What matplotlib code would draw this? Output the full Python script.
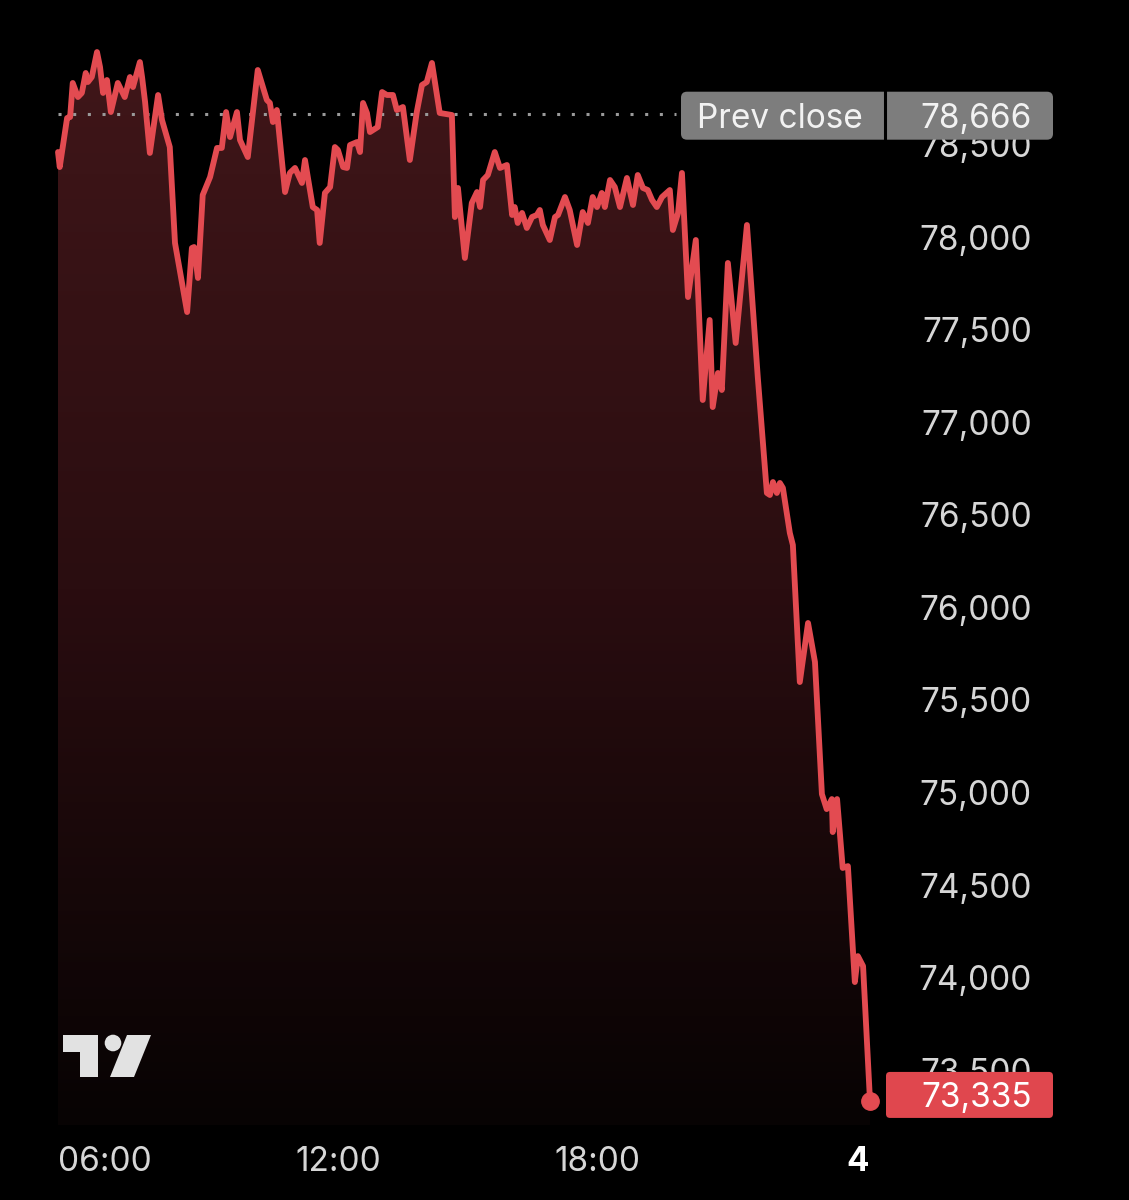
import numpy as np
import matplotlib
matplotlib.use("Agg")
import matplotlib.pyplot as plt
from matplotlib.patches import Polygon, FancyBboxPatch, Circle
from matplotlib.colors import LinearSegmentedColormap
from matplotlib.transforms import blended_transform_factory

plt.rcParams['font.family'] = ['Inter', 'DejaVu Sans']

# hours since midnight of the previous day (24 = the "4" day mark)
hours = [5.54, 5.58, 5.75, 5.82, 5.88, 6.00, 6.09, 6.18, 6.23, 6.32, 6.44, 6.51,
         6.58, 6.67, 6.76, 6.92, 7.08, 7.20, 7.27, 7.43, 7.48, 7.55, 7.66, 7.85,
         7.94, 8.12, 8.24, 8.52, 8.63, 8.68, 8.77, 8.88, 9.05, 9.21, 9.32, 9.42,
         9.51, 9.67, 9.74, 9.92, 10.15, 10.36, 10.43, 10.50, 10.59, 10.78, 10.89,
         11.01, 11.17, 11.24, 11.42, 11.52, 11.58, 11.70, 11.82, 11.93, 12.00,
         12.12, 12.21, 12.28, 12.44, 12.51, 12.58, 12.67, 12.74, 12.92, 13.02,
         13.13, 13.27, 13.36, 13.50, 13.66, 13.82, 13.94, 14.05, 14.17, 14.35,
         14.63, 14.70, 14.77, 14.93, 15.09, 15.21, 15.28, 15.35, 15.46, 15.62,
         15.74, 15.90, 16.02, 16.08, 16.15, 16.25, 16.36, 16.48, 16.59, 16.66,
         16.73, 16.89, 17.01, 17.08, 17.24, 17.35, 17.52, 17.65, 17.77, 17.88,
         17.98, 18.09, 18.16, 18.28, 18.39, 18.51, 18.67, 18.81, 18.92, 19.04,
         19.15, 19.25, 19.36, 19.48, 19.66, 19.73, 19.85, 19.94, 20.08, 20.26,
         20.42, 20.58, 20.65, 20.77, 20.86, 21.00, 21.18, 21.44, 21.69, 21.90,
         21.97, 22.04, 22.13, 22.20, 22.27, 22.43, 22.50, 22.66, 22.85, 23.01,
         23.17, 23.28, 23.40, 23.42, 23.52, 23.65, 23.77, 23.93, 24.00, 24.12,
         24.28]
prices = [78459, 78378, 78643, 78648, 78832, 78756, 78778, 78886, 78837, 78864,
          78999, 78918, 78778, 78848, 78675, 78832, 78756, 78864, 78810, 78945,
          78864, 78729, 78454, 78767, 78632, 78486, 77968, 77595, 77941, 77946,
          77779, 78227, 78324, 78481, 78481, 78675, 78540, 78675, 78524, 78432,
          78902, 78740, 78724, 78621, 78686, 78243, 78346, 78373, 78292, 78416,
          78162, 78146, 77968, 78238, 78270, 78486, 78470, 78378, 78373, 78497,
          78513, 78459, 78724, 78670, 78567, 78594, 78783, 78767, 78767, 78686,
          78702, 78416, 78675, 78821, 78837, 78940, 78670, 78659, 78108, 78265,
          77887, 78184, 78243, 78162, 78308, 78335, 78459, 78373, 78389, 78119,
          78162, 78076, 78130, 78049, 78108, 78119, 78146, 78065, 77984, 78108,
          78119, 78216, 78146, 77957, 78135, 78076, 78216, 78162, 78238, 78162,
          78308, 78270, 78162, 78319, 78173, 78335, 78265, 78254, 78200, 78162,
          78216, 78254, 78038, 78130, 78346, 77676, 77984, 77120, 77552, 77082,
          77266, 77174, 77860, 77428, 78065, 77244, 76618, 76607, 76677, 76618,
          76672, 76645, 76402, 76337, 75597, 75916, 75705, 74992, 74911, 74965,
          74787, 74965, 74593, 74603, 73977, 74117, 74063, 73335]

PREV_CLOSE = 78666
y_ticks = [73500, 74000, 74500, 75000, 75500, 76000, 76500, 77000, 77500, 78000, 78500]
x_ticks = [6, 12, 18, 24]
x_labels = ['06:00', '12:00', '18:00', '4']

LINE = '#e34b51'
TXT = '#d6d6d6'
W, H = 1129, 1200

fig = plt.figure(figsize=(W / 100, H / 100), dpi=100, facecolor='black')
ax = fig.add_axes([58 / W, 75 / H, (870 - 58) / W, (1125 - 30) / H])
ax.set_facecolor('black')
ax.set_xlim(hours[0], hours[-1])
ax.set_ylim(73205, 79118)
for s in ax.spines.values():
    s.set_visible(False)

# gradient fill under the line
y0, y1 = ax.get_ylim()
verts = [(hours[0], y0)] + list(zip(hours, prices)) + [(hours[-1], y0)]
poly = Polygon(verts, closed=True, facecolor='none', edgecolor='none')
ax.add_patch(poly)
cmap = LinearSegmentedColormap.from_list('fade', ['#070303', '#2a0d10', '#401619'])
grad = np.linspace(0, 1, 256).reshape(-1, 1)
im = ax.imshow(grad, cmap=cmap, aspect='auto', origin='lower',
               extent=[hours[0], hours[-1], y0, max(prices)], zorder=1)
im.set_clip_path(poly)

ax.plot(hours, prices, color=LINE, lw=4.2, solid_joinstyle='round',
        solid_capstyle='round', clip_on=False, zorder=4)
ax.plot(hours[-1], prices[-1], 'o', color=LINE, ms=12.5, clip_on=False, zorder=5)

# previous close dotted line, running up to the tag
x_end = ax.transData.inverted().transform((676, 0))[0]
ax.plot([hours[0], x_end], [PREV_CLOSE, PREV_CLOSE], color='#9a9a9a', lw=2.2,
        linestyle=(0, (1, 3.8)), dash_capstyle='butt', zorder=3)

# axis labels
ax.set_xticks([])
ax.yaxis.tick_right()
ax.set_yticks(y_ticks)
ax.set_yticklabels([f'{v:,}' for v in y_ticks])
ax.tick_params(axis='y', length=0, pad=116.6, labelsize=24, labelcolor=TXT)
for lbl in ax.get_yticklabels():
    lbl.set_horizontalalignment('right')

bt = blended_transform_factory(ax.transData, ax.transAxes)
for i, (t, s) in enumerate(zip(x_ticks, x_labels)):
    if i == 0:
        # first label is pinned to the chart's left edge
        ax.text(hours[0], -37 / 1095, s, transform=bt, ha='left', va='center',
                fontsize=24, color=TXT)
    else:
        ax.text(t, -37 / 1095, s, transform=bt, ha='center', va='center',
                fontsize=24, color='white' if s == '4' else TXT,
                fontweight='bold' if s == '4' else 'normal')

# overlay in pixel coordinates for the price tags and logo
ov = fig.add_axes([0, 0, 1, 1], zorder=10)
ov.set_xlim(0, W)
ov.set_ylim(H, 0)
ov.axis('off')
ov.patch.set_alpha(0)


def to_px(v):
    return H - ax.transData.transform((hours[0], v))[1]


yc = to_px(PREV_CLOSE) + 2
ov.add_patch(FancyBboxPatch((681, yc - 24), 372, 48,
                            boxstyle='round,pad=0,rounding_size=6',
                            facecolor='#7d7d7d', edgecolor='none'))
ov.plot([885, 885], [yc - 24, yc + 24], color='black', lw=2.2)
ov.text(780, yc, 'Prev close', ha='center', va='center_baseline', fontsize=24, color='#f2f2f2')
ov.text(1032, yc, f'{PREV_CLOSE:,}', ha='right', va='center_baseline', fontsize=24, color='#f2f2f2')

yl = to_px(prices[-1]) - 6
ov.add_patch(FancyBboxPatch((886, yl - 23), 167, 46,
                            boxstyle='round,pad=0,rounding_size=4',
                            facecolor='#e0474e', edgecolor='none'))
ov.text(1032, yl, f'{prices[-1]:,}', ha='right', va='center_baseline', fontsize=24, color='white')

# TradingView logo
LOGO = '#e2e2e2'
ov.add_patch(Polygon([(63, 1035), (98, 1035), (98, 1077), (80, 1077), (80, 1052), (63, 1052)],
                     closed=True, facecolor=LOGO, edgecolor='none'))
ov.add_patch(Circle((113, 1043), 8.3, facecolor=LOGO, edgecolor='none'))
ov.add_patch(Polygon([(127, 1035), (151, 1035), (134, 1077), (110, 1077)],
                     closed=True, facecolor=LOGO, edgecolor='none'))

fig.savefig('out.png', dpi=100, facecolor='black')
